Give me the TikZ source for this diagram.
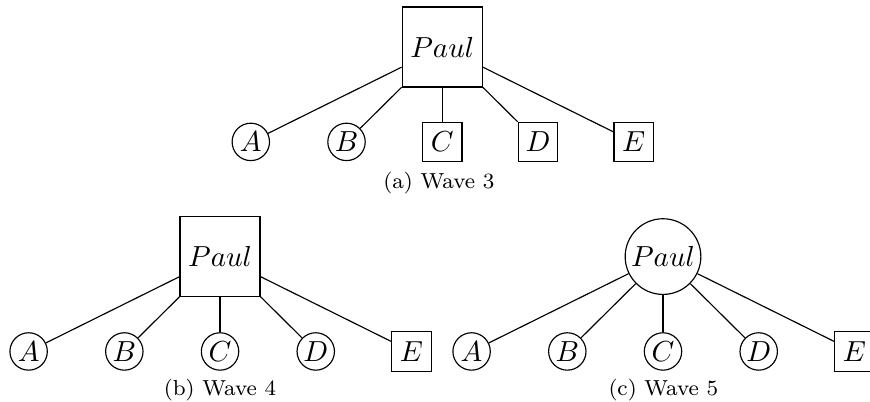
\documentclass[tikz,border=0pt]{standalone}
\usepackage{tikz}

\begin{document}
\begin{tikzpicture}[
  leaf circ/.style={draw, circle, minimum size=12.9pt, inner sep=0pt},
  leaf box/.style={draw, minimum size=13.6pt, inner sep=0pt},
  root box/.style={draw, minimum size=27.6pt, inner sep=0pt},
  root circ/.style={draw, circle, minimum size=26.1pt, inner sep=0pt},
  wave label/.style={anchor=base, font=\fontsize{7.5}{9}\selectfont}
]

\useasboundingbox (0, 0) rectangle (10.545, -4.861);

% wave 3
\node[root box] (paul 3) at (5.36, -0.57) {$Paul$};
\node[leaf circ] (a 3) at (3.04, -1.72) {$A$};
\node[leaf circ] (b 3) at (4.20, -1.72) {$B$};
\node[leaf box] (c 3) at (5.36, -1.72) {$C$};
\node[leaf box] (d 3) at (6.52, -1.72) {$D$};
\node[leaf box] (e 3) at (7.68, -1.72) {$E$};
\draw (paul 3) -- (a 3) {};
\draw (paul 3) -- (b 3) {};
\draw (paul 3) -- (c 3) {};
\draw (paul 3) -- (d 3) {};
\draw (paul 3) -- (e 3) {};
\node[wave label] (cap 3) at (5.32, -2.283) {(a)~Wave 3};

% wave 4
\node[root box] (paul 4) at (2.667, -3.11) {$Paul$};
\node[leaf circ] (a 4) at (0.347, -4.26) {$A$};
\node[leaf circ] (b 4) at (1.507, -4.26) {$B$};
\node[leaf circ] (c 4) at (2.667, -4.26) {$C$};
\node[leaf circ] (d 4) at (3.827, -4.26) {$D$};
\node[leaf box] (e 4) at (4.987, -4.26) {$E$};
\draw (paul 4) -- (a 4) {};
\draw (paul 4) -- (b 4) {};
\draw (paul 4) -- (c 4) {};
\draw (paul 4) -- (d 4) {};
\draw (paul 4) -- (e 4) {};
\node[wave label] (cap 4) at (2.667, -4.788) {(b)~Wave 4};

% wave 5
\node[root circ] (paul 5) at (8.036, -3.11) {$Paul$};
\node[leaf circ] (a 5) at (5.716, -4.26) {$A$};
\node[leaf circ] (b 5) at (6.876, -4.26) {$B$};
\node[leaf circ] (c 5) at (8.036, -4.26) {$C$};
\node[leaf circ] (d 5) at (9.196, -4.26) {$D$};
\node[leaf box] (e 5) at (10.356, -4.26) {$E$};
\draw (paul 5) -- (a 5) {};
\draw (paul 5) -- (b 5) {};
\draw (paul 5) -- (c 5) {};
\draw (paul 5) -- (d 5) {};
\draw (paul 5) -- (e 5) {};
\node[wave label] (cap 5) at (8.04, -4.788) {(c)~Wave 5};

\end{tikzpicture}
\end{document}
